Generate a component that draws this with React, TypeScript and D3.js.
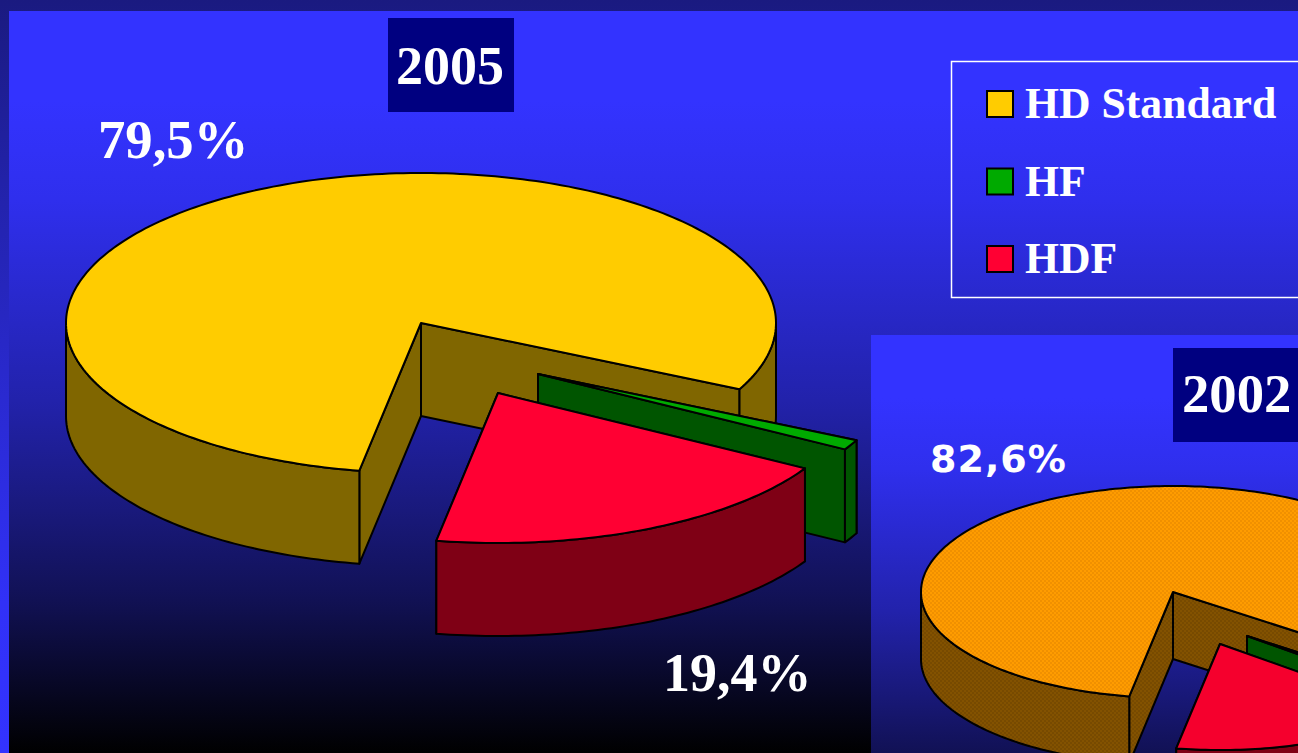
import React, { useEffect, useRef } from 'react';
import * as d3 from 'd3';

const categories = ['HD Standard', 'HF', 'HDF'];
const values2005 = [79.5, 1.1, 19.4];
const values2002 = [82.6, 0.8, 16.6];
const legendColors = ['#FFCC00', '#00AA00', '#FF0033'];
const top2005 = ['#FFCC00', '#00AA00', '#FF0033'];
const side2005 = ['#806600', '#005500', '#7F0015'];
const top2002 = ['url(#dotTop)', '#00AA00', '#F5002D'];
const side2002 = ['url(#dotSide)', '#005500', '#7F0015'];

const WIDTH = 1298;
const HEIGHT = 753;
const START = (190 * Math.PI) / 180;
const TAU = Math.PI * 2;

const pie = d3.pie<number>().sort(null).startAngle(START).endAngle(START + TAU);

type PieOpts = {
  cx: number;
  cy: number;
  rx: number;
  ry: number;
  depth: number;
  offsets: number[][];
  tops: string[];
  sides: string[];
};

function drawPie(svg: any, values: number[], o: PieOpts) {
  const xs = d3.scaleLinear().domain([-1, 1]).range([-o.rx, o.rx]);
  const ys = d3.scaleLinear().domain([-1, 1]).range([-o.ry, o.ry]);
  const line = d3.line();

  pie(values).forEach((d, i) => {
    const ox = o.cx + o.offsets[i][0];
    const oy = o.cy + o.offsets[i][1];
    const pt = (a: number, dz = 0): [number, number] => [ox + xs(Math.sin(a)), oy + ys(-Math.cos(a)) + dz];
    const arcPts = (a0: number, a1: number, dz = 0) => {
      const n = Math.max(2, Math.ceil((a1 - a0) / 0.02));
      return d3.range(n + 1).map(k => pt(a0 + ((a1 - a0) * k) / n, dz));
    };
    const shape = (pts: [number, number][], fill: string) => {
      svg.append('path')
        .attr('d', line(pts) + 'Z')
        .attr('fill', fill)
        .attr('stroke', '#000')
        .attr('stroke-width', 2)
        .attr('stroke-linejoin', 'round');
    };

    // cut faces
    [d.startAngle, d.endAngle].forEach(a => {
      shape([[ox, oy], pt(a), pt(a, o.depth), [ox, oy + o.depth]], o.sides[i]);
    });

    // outer wall, only the front half of the ellipse shows
    [0, 1].forEach(k => {
      const a0 = Math.max(d.startAngle, Math.PI / 2 + k * TAU);
      const a1 = Math.min(d.endAngle, (3 * Math.PI) / 2 + k * TAU);
      if (a1 > a0) {
        shape([...arcPts(a0, a1), ...arcPts(a0, a1, o.depth).reverse()], o.sides[i]);
      }
    });

    shape([[ox, oy], ...arcPts(d.startAngle, d.endAngle)], o.tops[i]);
  });
}

function addGradient(defs: any, id: string, stops: number[][]) {
  const g = defs.append('linearGradient').attr('id', id).attr('x1', 0).attr('y1', 0).attr('x2', 0).attr('y2', 1);
  stops.forEach(([offset, f]) => {
    g.append('stop')
      .attr('offset', offset)
      .attr('stop-color', d3.rgb(0x33 * f, 0x33 * f, 0xff * f).formatHex());
  });
}

// the 2002 pie is a dithered fill in the original
function addDots(defs: any, id: string, base: string, dot: string) {
  const p = defs.append('pattern').attr('id', id).attr('patternUnits', 'userSpaceOnUse').attr('width', 4).attr('height', 4);
  p.append('rect').attr('width', 4).attr('height', 4).attr('fill', base);
  p.append('rect').attr('width', 2).attr('height', 2).attr('fill', dot);
  p.append('rect').attr('x', 2).attr('y', 2).attr('width', 2).attr('height', 2).attr('fill', dot);
}

function label(svg: any, text: string, x: number, y: number, size = 54) {
  svg.append('text')
    .attr('x', x)
    .attr('y', y)
    .attr('fill', '#fff')
    .attr('font-family', '"Liberation Serif", serif')
    .attr('font-weight', 'bold')
    .attr('font-size', size)
    .text(text);
}

const App = () => {
  const ref = useRef<SVGSVGElement>(null);

  useEffect(() => {
    const svg = d3.select(ref.current);
    svg.selectAll('*').remove();
    const defs = svg.append('defs');

    const panelStops = [[0, 1], [0.12, 1], [0.255, 0.93], [0.524, 0.67], [0.659, 0.5], [0.794, 0.33], [1, 0]];
    addGradient(defs, 'outer', [[0, 0.5], [0.27, 0.68], [0.53, 0.82], [0.8, 0.97], [1, 1]]);
    addGradient(defs, 'panel', panelStops);
    addDots(defs, 'dotTop', '#FF9C00', '#F09000');
    addDots(defs, 'dotSide', '#835200', '#774A00');

    svg.append('rect').attr('width', WIDTH).attr('height', HEIGHT).attr('fill', 'url(#outer)');
    svg.append('rect').attr('x', 9).attr('y', 11).attr('width', WIDTH).attr('height', 742).attr('fill', 'url(#panel)');

    // 2005
    svg.append('rect').attr('x', 388).attr('y', 18).attr('width', 126).attr('height', 94).attr('fill', '#000080');
    label(svg, '2005', 396, 84);
    label(svg, '79,5%', 98, 158, 54.7);
    label(svg, '19,4%', 663, 691);
    drawPie(svg, values2005, {
      cx: 421, cy: 323, rx: 355, ry: 150, depth: 93,
      offsets: [[0, 0], [117, 51], [77, 70]],
      tops: top2005, sides: side2005,
    });

    // legend
    svg.append('rect').attr('x', 951.5).attr('y', 61.5).attr('width', 400).attr('height', 236)
      .attr('fill', 'none').attr('stroke', '#fff').attr('stroke-width', 1.5);
    const rows = d3.scalePoint().domain(categories).range([104, 259]);
    categories.forEach((c, i) => {
      const y = rows(c) as number;
      svg.append('rect').attr('x', 987).attr('y', y - 13).attr('width', 26).attr('height', 26)
        .attr('fill', legendColors[i]).attr('stroke', '#000').attr('stroke-width', 2);
      label(svg, c, 1025, y + 14, 43.7);
    });

    // 2002 inset
    svg.append('rect').attr('x', 871).attr('y', 335).attr('width', 500).attr('height', 527).attr('fill', 'url(#panel)');
    svg.append('rect').attr('x', 1173).attr('y', 348).attr('width', 200).attr('height', 94).attr('fill', '#000080');
    label(svg, '2002', 1182, 412, 54.7);
    svg.append('text')
      .attr('x', 930)
      .attr('y', 472)
      .attr('fill', '#fff')
      .attr('font-family', '"DejaVu Sans", sans-serif')
      .attr('font-weight', 'bold')
      .attr('font-size', 38)
      .attr('letter-spacing', 1)
      .text('82,6%');
    drawPie(svg, values2002, {
      cx: 1173, cy: 592, rx: 252, ry: 106, depth: 67,
      offsets: [[0, 0], [74, 44], [47, 52]],
      tops: top2002, sides: side2002,
    });
  }, []);

  return <svg ref={ref} width={WIDTH} height={HEIGHT} style={{ position: 'fixed', left: 0, top: 0, display: 'block' }} />;
};

export default App;
